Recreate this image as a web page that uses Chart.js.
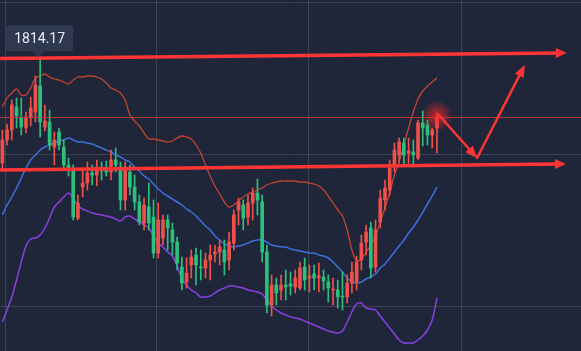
<!DOCTYPE html>
<html>
<head>
<meta charset="utf-8">
<script src="https://cdn.jsdelivr.net/npm/chart.js@4.4.0/dist/chart.umd.min.js"></script>
<style>
    html, body { margin: 0; padding: 0; background: #1f2639; overflow: hidden; }
    canvas { display: block; }
</style>
</head>
<body>
<canvas id="chart" width="581" height="351"></canvas>
<script>
// --- Candle data (one entry per bar) ---
const opens = [1793.2, 1797.8, 1799.8, 1804.4, 1802.2, 1800.2, 1802.2, 1803.4, 1808.6, 1800.4,
    1801.4, 1796.4, 1799.4, 1796.4, 1792.8, 1791.8, 1782.2, 1788.4, 1789.2, 1791.2,
    1790.8, 1792.2, 1792.2, 1791.4, 1793.8, 1792.4, 1785.8, 1791.4, 1788.4, 1785.4,
    1781.2, 1784.4, 1782.4, 1775.2, 1778.2, 1781.8, 1779.8, 1777.4, 1772.4, 1769.4,
    1772.8, 1774.8, 1772.4, 1772.2, 1773.8, 1775.0, 1775.4, 1775.8, 1773.8, 1777.2,
    1783.8, 1784.8, 1782.4, 1785.2, 1787.2, 1785.4, 1775.4, 1764.8, 1768.8, 1767.8,
    1768.8, 1769.0, 1768.4, 1768.2, 1772.4, 1770.2, 1771.0, 1770.2, 1770.4, 1769.4,
    1767.8, 1767.8, 1766.6, 1766.4, 1769.2, 1769.4, 1773.8, 1777.4, 1780.2, 1772.4,
    1781.4, 1785.8, 1787.8, 1792.4, 1794.8, 1797.2, 1795.2, 1795.4, 1794.2, 1801.2,
    1800.8, 1798.8, 1800.2];
const highs = [1799.8, 1801.0, 1805.8, 1806.2, 1806.2, 1803.4, 1806.4, 1810.6, 1814.17, 1804.8,
    1803.8, 1799.4, 1800.2, 1797.8, 1794.2, 1792.8, 1786.8, 1791.8, 1793.4, 1792.8,
    1793.8, 1793.4, 1793.6, 1795.8, 1796.2, 1793.4, 1793.4, 1792.8, 1790.8, 1786.8,
    1786.2, 1789.2, 1785.8, 1785.2, 1782.8, 1782.8, 1781.2, 1778.4, 1774.4, 1774.2,
    1775.8, 1776.2, 1775.8, 1775.2, 1776.8, 1776.8, 1777.8, 1777.8, 1779.4, 1783.8,
    1786.2, 1785.8, 1786.8, 1788.2, 1790.0, 1786.8, 1776.8, 1770.8, 1770.2, 1770.8,
    1771.8, 1771.4, 1771.8, 1773.4, 1774.2, 1772.8, 1772.8, 1773.2, 1771.8, 1770.8,
    1770.2, 1769.8, 1771.4, 1770.8, 1773.4, 1774.6, 1778.8, 1780.8, 1781.4, 1781.8,
    1787.8, 1789.8, 1793.8, 1797.2, 1798.2, 1798.2, 1798.2, 1797.8, 1801.8, 1803.6,
    1801.8, 1800.2, 1803.2];
const lows = [1792.2, 1796.8, 1797.8, 1800.2, 1798.8, 1799.2, 1800.6, 1801.4, 1798.4, 1799.6,
    1795.8, 1792.8, 1795.8, 1792.2, 1790.6, 1781.8, 1781.8, 1786.4, 1787.8, 1788.8,
    1788.6, 1789.8, 1790.6, 1789.8, 1791.4, 1783.8, 1783.8, 1786.8, 1783.8, 1780.8,
    1779.8, 1779.8, 1774.2, 1774.2, 1776.8, 1775.8, 1774.8, 1771.8, 1767.8, 1768.2,
    1770.2, 1768.8, 1769.8, 1770.2, 1769.8, 1773.4, 1772.8, 1770.8, 1771.8, 1775.8,
    1780.8, 1779.8, 1780.8, 1781.8, 1782.8, 1773.4, 1763.2, 1762.6, 1764.8, 1765.8,
    1765.8, 1766.8, 1767.2, 1767.8, 1767.8, 1767.4, 1767.8, 1767.4, 1767.8, 1765.4,
    1764.8, 1764.2, 1763.8, 1765.2, 1767.2, 1767.8, 1771.8, 1774.8, 1770.2, 1771.4,
    1780.2, 1783.8, 1786.8, 1791.4, 1793.2, 1792.8, 1792.8, 1792.8, 1793.8, 1796.6,
    1796.8, 1796.2, 1795.2];
const closes = [1797.8, 1799.8, 1804.8, 1802.6, 1800.4, 1802.4, 1804.2, 1808.8, 1801.4, 1801.6,
    1796.8, 1797.8, 1796.8, 1792.8, 1791.6, 1782.4, 1785.2, 1789.2, 1791.2, 1790.8,
    1792.4, 1791.6, 1791.4, 1793.8, 1792.8, 1785.8, 1791.8, 1788.4, 1785.4, 1781.4,
    1784.8, 1781.2, 1775.2, 1781.8, 1781.8, 1780.2, 1777.4, 1773.2, 1769.2, 1771.2,
    1774.4, 1772.8, 1772.2, 1773.8, 1774.8, 1775.4, 1776.4, 1773.4, 1777.4, 1782.8,
    1785.4, 1782.2, 1785.2, 1787.2, 1785.8, 1775.4, 1764.8, 1768.8, 1767.2, 1768.8,
    1768.4, 1768.6, 1770.2, 1772.2, 1769.8, 1770.6, 1770.2, 1770.6, 1769.6, 1768.2,
    1768.0, 1766.4, 1766.4, 1769.2, 1771.4, 1773.4, 1777.2, 1779.4, 1772.2, 1779.8,
    1786.2, 1788.2, 1792.2, 1795.8, 1797.4, 1794.8, 1795.6, 1794.8, 1801.2, 1800.2,
    1798.8, 1799.8, 1802.4];

// --- Bollinger bands ---
const upperBand = [1804.4, 1806.2, 1807.2, 1808.0, 1806.8, 1806.8, 1808.2, 1810.2, 1810.6, 1811.0,
    1810.4, 1810.0, 1809.8, 1809.4, 1809.0, 1809.8, 1810.4, 1810.4, 1810.6, 1810.6,
    1810.4, 1810.0, 1809.2, 1808.2, 1807.8, 1807.2, 1805.8, 1802.8, 1801.6, 1800.6,
    1799.2, 1798.0, 1798.0, 1797.8, 1797.6, 1797.4, 1797.6, 1798.2, 1798.6, 1798.4,
    1798.0, 1796.8, 1795.2, 1792.8, 1790.6, 1788.6, 1787.0, 1785.4, 1784.4, 1784.8,
    1785.6, 1786.4, 1787.0, 1787.4, 1787.8, 1788.2, 1788.8, 1789.2, 1789.4, 1789.6,
    1789.6, 1789.6, 1789.6, 1789.4, 1789.4, 1789.2, 1789.0, 1788.6, 1787.8, 1786.6,
    1785.2, 1783.8, 1782.6, 1779.8, 1775.8, 1773.6, 1774.0, 1775.4, 1776.8, 1778.6,
    1781.4, 1784.2, 1787.2, 1790.8, 1793.4, 1796.8, 1800.2, 1803.4, 1806.0, 1807.6,
    1808.6, 1809.4, 1810.2];
const middleBand = [1782.8, 1784.8, 1786.4, 1788.2, 1790.2, 1792.2, 1793.8, 1794.8, 1795.8, 1796.4,
    1796.8, 1797.2, 1797.6, 1797.8, 1798.2, 1797.8, 1797.4, 1797.4, 1797.2, 1797.0,
    1796.6, 1796.2, 1795.8, 1795.4, 1794.8, 1794.4, 1793.8, 1793.4, 1792.4, 1791.6,
    1790.6, 1790.0, 1789.0, 1788.0, 1787.2, 1786.6, 1786.0, 1785.4, 1784.8, 1784.0,
    1783.4, 1782.6, 1781.6, 1780.6, 1779.8, 1778.6, 1777.8, 1777.0, 1776.6, 1776.4,
    1776.6, 1776.8, 1777.2, 1777.6, 1777.8, 1777.8, 1777.4, 1776.8, 1776.6, 1776.4,
    1776.4, 1776.0, 1775.8, 1775.6, 1775.4, 1775.2, 1775.2, 1774.8, 1774.6, 1774.2,
    1773.4, 1772.4, 1771.4, 1770.2, 1769.4, 1769.2, 1769.4, 1770.0, 1770.4, 1771.0,
    1772.2, 1773.0, 1774.2, 1775.4, 1776.6, 1777.8, 1779.2, 1780.4, 1781.8, 1783.4,
    1785.0, 1786.6, 1788.4];
const lowerBand = [1761.4, 1763.8, 1766.4, 1769.8, 1773.4, 1776.6, 1778.0, 1778.2, 1778.8, 1780.2,
    1782.2, 1784.4, 1785.4, 1786.4, 1787.2, 1786.2, 1784.6, 1784.0, 1783.6, 1783.2,
    1783.0, 1782.8, 1782.6, 1782.4, 1782.0, 1781.6, 1782.4, 1782.6, 1782.0, 1781.4,
    1780.8, 1780.2, 1778.6, 1777.2, 1776.4, 1775.4, 1774.6, 1772.6, 1770.0, 1768.8,
    1767.8, 1767.2, 1766.4, 1766.4, 1766.6, 1767.2, 1767.8, 1768.2, 1768.6, 1768.6,
    1768.4, 1768.2, 1767.8, 1767.6, 1767.4, 1767.0, 1765.8, 1764.6, 1763.8, 1763.2,
    1762.8, 1762.4, 1762.2, 1762.0, 1761.6, 1761.2, 1760.8, 1760.4, 1760.0, 1759.6,
    1759.4, 1759.2, 1759.6, 1761.4, 1763.4, 1765.0, 1765.2, 1764.2, 1764.0, 1763.8,
    1762.6, 1761.4, 1760.2, 1759.0, 1757.8, 1757.2, 1757.2, 1757.2, 1757.8, 1758.6,
    1759.8, 1761.8, 1766.2];

// --- Drawn levels / forecast arrows, as [bar, price] ---
const resistanceArrow = [[-0.5, 1814.1], [119.5, 1815.2]];
const supportArrow = [[-0.5, 1791.8], [119.3, 1793.0]];
const forecastPath = [[92.4, 1802.8], [100.5, 1794.2], [110.6, 1812.8]];
const peakLabel = '1814.17';

// --- Layout / style constants ---
const totalSlots = 123;
const priceMin = 1755.6;
const priceMax = 1825.8;
const gridBars = [0.56, 32.73, 64.9, 97.3];
const gridPrices = [1825.2, 1794.8, 1764.4];

const UP = '#ef5049';
const DOWN = '#2fbf7d';
const ARROW = '#ff3535';
const BG = '#1f2639';
const GRID = 'rgba(255,255,255,0.13)';

const candleColor = ctx => closes[ctx.dataIndex] >= opens[ctx.dataIndex] ? UP : DOWN;
const bodies = opens.map((o, i) => ({ x: i, y: [o, closes[i]] }));
const wicks = lows.map((l, i) => ({ x: i, y: [l, highs[i]] }));
const toPoints = arr => arr.map((v, i) => ({ x: i, y: v }));

function drawArrowHead(ctx, from, to, len, half) {
    const ang = Math.atan2(to.y - from.y, to.x - from.x);
    ctx.beginPath();
    ctx.moveTo(to.x, to.y);
    ctx.lineTo(to.x - len * Math.cos(ang) + half * Math.sin(ang), to.y - len * Math.sin(ang) - half * Math.cos(ang));
    ctx.lineTo(to.x - len * Math.cos(ang) - half * Math.sin(ang), to.y - len * Math.sin(ang) + half * Math.cos(ang));
    ctx.closePath();
    ctx.fill();
}

const overlay = {
    id: 'overlay',
    beforeDraw(chart) {
        const ctx = chart.ctx;
        ctx.save();
        ctx.fillStyle = BG;
        ctx.fillRect(0, 0, chart.width, chart.height);
        ctx.restore();
    },
    afterDatasetsDraw(chart) {
        const { ctx, scales: { x, y }, chartArea } = chart;
        const px = p => ({ x: x.getPixelForValue(p[0]), y: y.getPixelForValue(p[1]) });
        const last = closes.length - 1;

        ctx.save();
        // last price line
        const yLast = Math.round(y.getPixelForValue(closes[last])) + 0.5;
        ctx.strokeStyle = 'rgba(200,60,60,0.85)';
        ctx.lineWidth = 1;
        ctx.beginPath();
        ctx.moveTo(chartArea.left, yLast);
        ctx.lineTo(chartArea.right, yLast);
        ctx.stroke();

        // glow on latest bar
        const gx = x.getPixelForValue(last), gy = y.getPixelForValue(highs[last]) + 3;
        const glow = ctx.createRadialGradient(gx, gy, 0, gx, gy, 16);
        glow.addColorStop(0, 'rgba(255,40,40,0.75)');
        glow.addColorStop(1, 'rgba(255,40,40,0)');
        ctx.fillStyle = glow;
        ctx.beginPath();
        ctx.arc(gx, gy, 16, 0, Math.PI * 2);
        ctx.fill();

        // horizontal level arrows
        ctx.strokeStyle = ARROW;
        ctx.fillStyle = ARROW;
        ctx.lineCap = 'round';
        [resistanceArrow, supportArrow].forEach(a => {
            const p0 = px(a[0]), p1 = px(a[1]);
            ctx.lineWidth = 3.5;
            ctx.beginPath();
            ctx.moveTo(p0.x, p0.y);
            ctx.lineTo(p1.x - 6, p1.y + (p0.y - p1.y) * 6 / (p1.x - p0.x));
            ctx.stroke();
            drawArrowHead(ctx, p0, p1, 11, 5);
        });

        // forecast zigzag
        const pts = forecastPath.map(px);
        ctx.lineWidth = 2.5;
        for (let i = 1; i < pts.length; i++) {
            const a = pts[i - 1], b = pts[i];
            const d = Math.hypot(b.x - a.x, b.y - a.y);
            const ex = b.x - (b.x - a.x) * 8 / d, ey = b.y - (b.y - a.y) * 8 / d;
            ctx.beginPath();
            ctx.moveTo(a.x, a.y);
            ctx.lineTo(ex, ey);
            ctx.stroke();
            drawArrowHead(ctx, a, b, 12, 5);
        }

        // peak price label
        const peakIdx = highs.indexOf(Math.max(...highs));
        const lx = x.getPixelForValue(peakIdx), ly = y.getPixelForValue(highs[peakIdx]);
        const w = 67, h = 26, bx = lx - 34, by = ly - 33;
        ctx.fillStyle = '#2f3a50';
        ctx.beginPath();
        ctx.roundRect(bx, by, w, h, 3);
        ctx.fill();
        ctx.beginPath();
        ctx.moveTo(lx - 8, by + h);
        ctx.lineTo(lx - 2, by + h + 6);
        ctx.lineTo(lx + 4, by + h);
        ctx.closePath();
        ctx.fill();
        ctx.fillStyle = '#e9edf3';
        ctx.font = '14px Roboto, "Noto Sans", sans-serif';
        ctx.textAlign = 'center';
        ctx.textBaseline = 'middle';
        ctx.fillText(peakLabel, bx + w / 2, by + h / 2 + 1);
        ctx.restore();
    }
};

const axisBase = {
    ticks: { display: false },
    border: { display: false },
    grid: { color: GRID, lineWidth: 1, drawTicks: false, offset: false }
};

new Chart(document.getElementById('chart'), {
    type: 'bar',
    data: {
        datasets: [
            { type: 'bar', data: bodies, backgroundColor: candleColor, barThickness: 3, grouped: false, minBarLength: 1, order: 0 },
            { type: 'bar', data: wicks, backgroundColor: candleColor, barThickness: 1, grouped: false, order: 1 },
            { type: 'line', data: toPoints(upperBand), borderColor: '#c4442f', borderWidth: 1.3, pointRadius: 0, tension: 0.3, order: 2 },
            { type: 'line', data: toPoints(middleBand), borderColor: '#3b70dd', borderWidth: 1.5, pointRadius: 0, tension: 0.3, order: 2 },
            { type: 'line', data: toPoints(lowerBand), borderColor: '#8a3fe2', borderWidth: 1.5, pointRadius: 0, tension: 0.3, order: 2 }
        ]
    },
    options: {
        responsive: false,
        animation: false,
        layout: { padding: 0 },
        plugins: { legend: { display: false }, tooltip: { enabled: false } },
        scales: {
            x: {
                ...axisBase,
                type: 'linear',
                offset: false,
                min: -0.5,
                max: totalSlots - 0.5,
                afterBuildTicks: axis => { axis.ticks = gridBars.map(v => ({ value: v })); }
            },
            y: {
                ...axisBase,
                min: priceMin,
                max: priceMax,
                afterBuildTicks: axis => { axis.ticks = gridPrices.map(v => ({ value: v })); }
            }
        }
    },
    plugins: [overlay]
});
</script>
</body>
</html>
